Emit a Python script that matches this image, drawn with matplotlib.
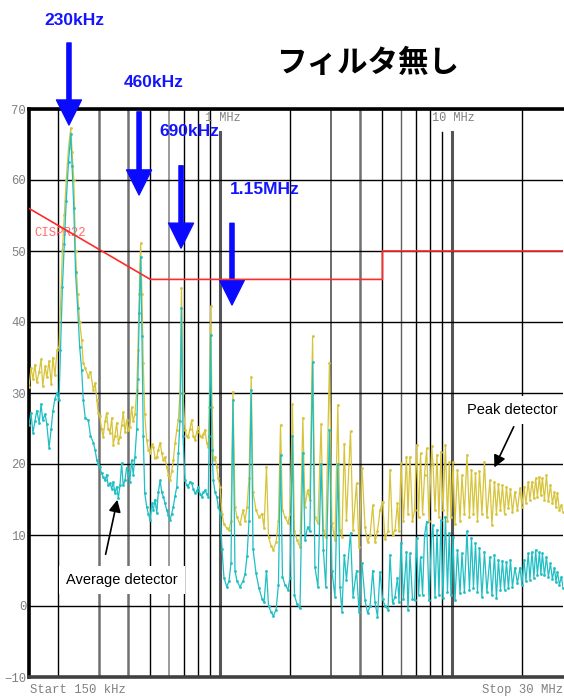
import matplotlib
matplotlib.use("Agg")
import matplotlib.pyplot as plt


# ---------- DATA ----------
freq_mhz = [
    0.150, 0.153, 0.156, 0.159, 0.162, 0.166, 0.169, 0.172, 0.176, 0.179, 0.183, 0.187, 0.190, 0.194, 0.198, 0.202,
    0.205, 0.209, 0.213, 0.217, 0.222, 0.227, 0.230, 0.234, 0.238, 0.243, 0.248, 0.253, 0.257, 0.262, 0.270, 0.276,
    0.284, 0.289, 0.294, 0.298,
    0.303, 0.308, 0.313, 0.319, 0.324, 0.329, 0.335, 0.341, 0.346, 0.352, 0.358, 0.364, 0.370, 0.376, 0.382, 0.389,
    0.395, 0.402, 0.408, 0.415, 0.422, 0.429, 0.437, 0.442, 0.448, 0.454, 0.460, 0.466, 0.473, 0.482, 0.490, 0.499,
    0.507, 0.515, 0.524, 0.533, 0.541, 0.551, 0.560, 0.569, 0.578, 0.588, 0.598, 0.608, 0.618, 0.628, 0.639, 0.650,
    0.660, 0.671, 0.681, 0.691, 0.705, 0.717, 0.728, 0.741, 0.753, 0.765, 0.779, 0.792, 0.805, 0.818, 0.832, 0.846,
    0.860, 0.874, 0.888, 0.897, 0.909, 0.922, 0.934, 0.950, 0.966, 0.981,
    0.998, 1.018, 1.038, 1.067, 1.091, 1.113, 1.135, 1.158, 1.181, 1.217, 1.254, 1.279, 1.305, 1.331, 1.360, 1.385,
    1.427, 1.470, 1.515, 1.545, 1.583, 1.615, 1.656, 1.694, 1.741, 1.782, 1.819, 1.855, 1.901, 1.959, 1.998, 2.048,
    2.089, 2.142, 2.207, 2.270, 2.319, 2.378, 2.434, 2.501, 2.559, 2.637, 2.721, 2.783, 2.851, 2.956, 3.030, 3.122,
    3.213, 3.281, 3.347, 3.424, 3.500, 3.643, 3.735, 3.867, 3.964, 4.084, 4.208, 4.314, 4.423, 4.544, 4.646, 4.762,
    4.882, 5.005,
    5.131, 5.287, 5.392, 5.528, 5.664, 5.806, 5.894, 6.012, 6.162, 6.348, 6.444, 6.573, 6.739, 6.876, 7.014, 7.155,
    7.299, 7.446, 7.596, 7.757, 7.937, 8.153, 8.259, 8.424, 8.594, 8.762, 8.937, 9.117, 9.347, 9.536, 9.706, 9.871,
    10.07, 10.27, 10.53, 10.80, 11.01, 11.28, 11.57, 11.86, 12.10, 12.34, 12.59, 12.84, 13.10, 13.42, 13.76, 14.10,
    14.53, 14.82, 15.20, 15.50, 15.81, 16.13, 16.45, 16.79, 17.12, 17.46, 17.81, 18.17, 18.62, 19.09, 19.57, 19.96,
    20.36, 20.77, 21.25, 21.61, 22.05, 22.48, 22.88, 23.27, 23.74, 24.09, 24.46, 24.95, 25.45, 25.96, 26.48, 27.01,
    27.56, 27.97, 28.39, 28.95, 29.53, 30.00,
]

peak_dbuv = [
    30.8, 33.5, 32.0, 34.0, 31.5, 33.0, 34.8, 31.0, 33.8, 32.2, 34.5, 31.2, 35.0, 32.5, 36.0, 36.5,
    42.0, 50.1, 55.0, 60.0, 64.5, 67.3, 64.0, 60.0, 50.0, 44.0, 40.0, 37.5, 34.2, 33.5, 32.3, 33.0,
    30.4, 31.4, 29.0, 27.2,
    26.7, 25.0, 23.8, 26.0, 27.2, 25.0, 24.4, 26.5, 22.7, 24.0, 25.8, 23.0, 23.8, 25.5, 27.3, 24.5,
    26.2, 24.8, 25.2, 28.0, 26.0, 27.0, 30.4, 36.0, 44.0, 51.1, 44.0, 34.2, 27.0, 23.4, 22.0, 21.5,
    22.8, 22.4, 20.8, 21.0, 22.0, 23.0, 21.5, 20.5, 21.0, 19.6, 18.5, 17.7, 19.0, 20.5, 23.0, 24.8,
    26.2, 30.0, 44.8, 30.0, 24.8, 24.0, 23.8, 25.0, 26.2, 24.0, 23.4, 24.5, 25.2, 24.0, 23.8, 24.2,
    24.8, 23.0, 22.4, 28.0, 42.2, 28.0, 20.5, 21.0, 19.6, 18.0,
    16.8, 13.0, 11.5, 11.0, 10.7, 12.0, 30.2, 14.0, 12.5, 11.5, 13.5, 12.0, 14.0, 18.0, 32.2, 16.0,
    13.5, 12.5, 13.0, 11.0, 19.6, 9.7, 8.5, 7.9, 9.0, 12.0, 25.5, 13.5, 12.5, 11.7, 13.0, 28.4,
    10.5, 9.3, 8.3, 26.5, 14.0, 16.3, 15.0, 38.0, 12.5, 11.7, 25.6, 10.7, 9.7, 34.2, 11.7, 9.3,
    28.3, 10.7, 9.7, 22.8, 12.1, 24.6, 10.7, 17.3, 8.3, 19.4, 11.1, 9.0, 10.0, 14.2, 9.0, 10.5,
    13.5, 14.7,
    9.5, 10.5, 19.2, 10.0, 10.7, 14.5, 10.5, 20.1, 12.0, 21.0, 13.0, 21.0, 12.0, 13.5, 22.7, 12.5,
    21.5, 13.0, 18.5, 22.2, 12.0, 22.5, 20.0, 13.5, 21.3, 12.5, 21.7, 13.5, 22.7, 12.0, 20.3, 12.5,
    20.3, 11.5, 19.2, 12.0, 18.4, 13.0, 21.3, 12.5, 19.2, 13.0, 18.7, 12.0, 19.0, 13.0, 20.3, 12.5,
    17.7, 11.4, 17.5, 13.0, 17.2, 13.5, 17.0, 13.0, 16.8, 13.8, 16.5, 13.2, 16.1, 13.5, 16.6, 14.0,
    16.8, 14.5, 17.5, 15.0, 17.5, 15.2, 18.0, 15.4, 18.2, 15.6, 18.0, 15.0, 18.4, 14.8, 17.0, 14.5,
    16.0, 14.0, 15.9, 13.5, 14.2, 13.3,
]

avg_dbuv = [
    25.5, 27.2, 24.4, 26.0, 27.5, 25.8, 28.4, 26.2, 27.0, 25.6, 22.3, 25.0, 27.4, 29.2, 30.0, 29.0,
    36.0, 45.0, 51.0, 57.0, 62.5, 66.5, 62.0, 56.0, 47.0, 42.0, 36.5, 33.2, 29.0, 26.5, 26.2, 24.0,
    23.0, 22.0, 20.5, 20.0,
    19.6, 18.7, 18.2, 17.7, 18.5, 17.0, 17.3, 16.5, 17.5, 15.9, 16.8, 15.2, 17.0, 20.1, 17.0, 17.7,
    19.5, 18.7, 17.5, 20.5, 18.5, 21.0, 25.0, 32.0, 41.3, 49.2, 38.0, 24.0, 15.9, 14.0, 13.0, 12.1,
    14.5, 13.5, 15.0, 13.1, 16.0, 17.7, 16.0, 15.4, 14.5, 13.5, 12.8, 12.1, 13.0, 14.0, 15.5, 16.8,
    21.5, 26.0, 42.0, 24.0, 17.7, 17.0, 16.8, 17.5, 17.3, 16.5, 15.9, 16.2, 16.8, 15.8, 15.4, 16.0,
    16.3, 15.8, 15.4, 24.0, 38.2, 22.0, 17.7, 16.0, 15.4, 14.0,
    13.1, 8.0, 4.0, 2.7, 3.5, 6.0, 29.0, 5.0, 3.5, 2.7, 3.5, 4.5, 7.0, 12.0, 30.4, 8.0,
    4.6, 2.5, 1.0, 0.5, 5.0, 0.0, -0.8, -1.4, -0.5, 3.0, 21.3, 4.1, 3.0, 2.3, 4.0, 24.0,
    1.5, 0.3, -0.3, 21.6, 9.3, 11.1, 10.5, 34.4, 5.5, 2.7, 20.0, 7.9, 2.7, 24.8, 5.0, 1.3,
    20.0, 2.7, -0.8, 7.2, 3.7, 10.3, 1.3, 5.0, -0.8, 6.0, 0.8, -1.0, 0.0, 5.0, 0.5, -1.5,
    4.8, 1.0,
    0.0, -0.5, 7.2, 0.4, 1.3, 4.0, 0.5, 8.9, 1.0, 7.6, -0.6, 7.4, 1.0, 0.8, 9.6, 1.5,
    6.9, 1.6, 10.0, 11.9, 0.8, 10.0, 11.4, 1.2, 10.7, 1.5, 12.1, 1.1, 12.6, 2.0, 10.3, 1.5,
    9.7, 0.8, 7.9, 1.8, 7.4, 2.0, 10.5, 2.3, 9.6, 2.5, 8.9, 2.0, 8.2, 1.3, 7.6, 2.0,
    6.9, 1.5, 7.2, 1.1, 6.5, 2.3, 6.4, 2.3, 6.2, 2.5, 6.5, 2.7, 5.4, 3.2, 5.4, 3.0,
    6.5, 3.5, 7.4, 3.7, 7.6, 4.0, 7.9, 4.4, 7.6, 4.5, 7.4, 4.3, 6.9, 4.1, 6.0, 3.8,
    5.4, 3.4, 4.8, 3.0, 4.1, 2.6,
]

# CISPR22 class B average limit
limit_mhz = [0.15, 0.5, 5.0, 5.0, 30.0]
limit_dbuv = [56, 46, 46, 50, 50]

# harmonic markers (blue arrows)
marker_labels = ["230kHz", "460kHz", "690kHz", "1.15MHz"]
marker_mhz = [0.223, 0.447, 0.678, 1.124]
marker_top = [79.3, 69.6, 62.0, 53.9]
marker_tip = [67.75, 57.9, 50.4, 42.4]
label_mhz = [0.2345, 0.519, 0.734, 1.559]
label_dbuv = [82.5, 73.8, 66.9, 58.7]

y_ticks = [-10, 0, 10, 20, 30, 40, 50, 60, 70]
grid_mhz = [0.2, 0.3, 0.4, 0.5, 0.6, 0.7, 0.8, 0.9, 2, 3, 4, 5, 6, 7, 8, 20]
short_grid_mhz = [1, 9, 10]
# ------------------------------------------------------------

MONO = "Liberation Mono"
GRAY_TXT = "#808080"

fig = plt.figure(figsize=(5.64, 6.97), dpi=100)
ax = fig.add_axes([29/564, 20/697, 534/564, 568/697])
ax.set_xscale("log")
ax.set_xlim(0.15, 30)
ax.set_ylim(-10, 70)

# ---------- GRID ----------
grid_style = {0.3: ("#707070", 1.8), 0.4: ("#707070", 1.8), 0.6: ("#8a8a8a", 1.2),
              3: ("#505050", 1.2), 4: ("#707070", 1.8), 6: ("#606060", 1.0)}
for f in grid_mhz:
    c, lw = grid_style.get(f, ("black", 1.0))
    ax.axvline(f, color=c, lw=lw, zorder=1)
for f in short_grid_mhz:
    c, lw = ("black", 1.0) if f == 9 else ("#555555", 2.2)
    ax.axvline(f, ymax=(66.8 + 10) / 80, color=c, lw=lw, zorder=1)
for y in y_ticks:
    ax.axhline(y, color="black", lw=1.0, zorder=1)

# ---------- TRACES ----------
ax.plot(freq_mhz, peak_dbuv, color="#d8c43a", lw=0.9, marker="s", ms=0.9, zorder=3)
ax.plot(freq_mhz, avg_dbuv, color="#1fbfc4", lw=0.9, marker="s", ms=0.9, zorder=4)
ax.plot(limit_mhz, limit_dbuv, color="#ff2a2a", lw=1.2, zorder=5)

# ---------- AXES LOOK ----------
ax.spines["right"].set_visible(False)
ax.spines["top"].set_linewidth(2.6)
ax.spines["left"].set_linewidth(2.6)
ax.spines["bottom"].set_linewidth(2.6)
ax.spines["bottom"].set_color("#404040")
ax.tick_params(axis="x", which="both", bottom=False, labelbottom=False)
ax.set_yticks(y_ticks)
ax.tick_params(axis="y", length=0, pad=2, labelcolor=GRAY_TXT, labelsize=8.8)
for lbl in ax.get_yticklabels():
    lbl.set_fontfamily(MONO)

ax.text(0.86, 68.7, "1 MHz", family=MONO, fontsize=8.6, color=GRAY_TXT, ha="left", va="center")
ax.text(8.18, 68.7, "10 MHz", family=MONO, fontsize=8.6, color=GRAY_TXT, ha="left", va="center")
ax.text(0.159, 52.5, "CISPR22", family=MONO, fontsize=8.8, color="#ff6a6a", ha="left", va="center")
fig.text(30/564, 1 - 690/697, "Start 150 kHz", family=MONO, fontsize=8.8, color=GRAY_TXT, ha="left", va="center")
fig.text(563/564, 1 - 690/697, "Stop 30 MHz", family=MONO, fontsize=8.8, color=GRAY_TXT, ha="right", va="center")

# ---------- HARMONIC ARROWS ----------
for f, top, tip in zip(marker_mhz, marker_top, marker_tip):
    ax.annotate("", xy=(f, tip), xytext=(f, top), annotation_clip=False,
                arrowprops=dict(color="#0a0aff", width=3.0, headwidth=18, headlength=18, shrink=0))
for f, db, txt in zip(label_mhz, label_dbuv, marker_labels):
    ax.text(f, db, txt, color="#1414ff", fontsize=12.5, fontweight="bold", family="Liberation Sans",
            ha="center", va="center", clip_on=False)

# ---------- DETECTOR NOTES ----------
box = dict(facecolor="white", edgecolor="none", pad=5)
ax.text(18.07, 27.6, "Peak detector", family="Liberation Sans", fontsize=10.5,
        ha="center", va="center", bbox=box, zorder=6)
ax.annotate("", xy=(15.0, 19.15), xytext=(18.62, 25.6), zorder=7,
            arrowprops=dict(arrowstyle="-|>", color="black", lw=1.2, mutation_scale=18))
ax.text(0.377, 3.66, "Average detector", family="Liberation Sans", fontsize=10.5,
        ha="center", va="center", bbox=box, zorder=6)
ax.annotate("", xy=(0.3625, 15.35), xytext=(0.319, 6.9), zorder=7,
            arrowprops=dict(arrowstyle="-|>", color="black", lw=1.2, mutation_scale=18))

fig.text(368/564, 1 - 63/697, "フィルタ無し", fontsize=22, fontweight="bold",
         family=["Noto Sans CJK JP", "DejaVu Sans"], ha="center", va="center")

fig.savefig("out.png", dpi=100)
plt.close(fig)
